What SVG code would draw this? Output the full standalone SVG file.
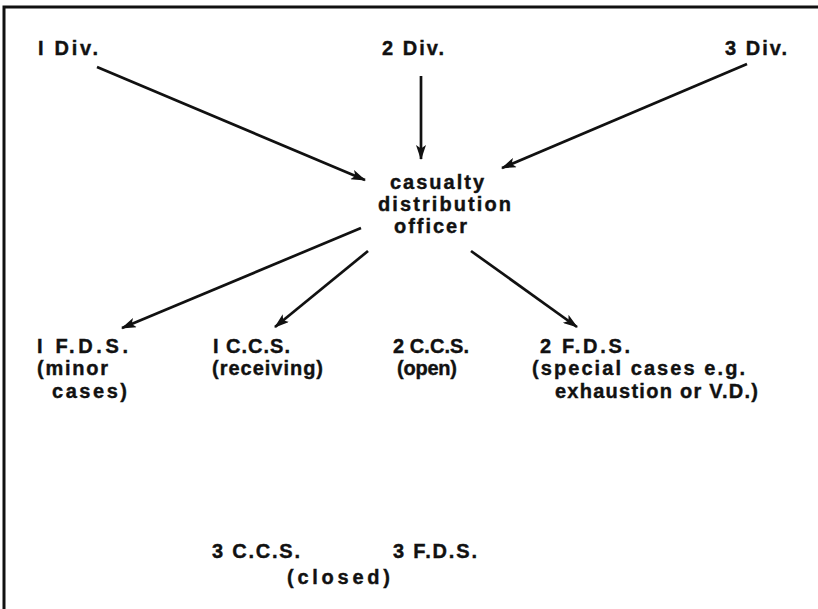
<svg xmlns="http://www.w3.org/2000/svg" width="818" height="609" viewBox="0 0 818 609">
  <style>
    .lbl { font-family: "Liberation Sans", "DejaVu Sans", sans-serif; font-weight: bold; font-size: 20px; fill: #111; stroke: #111; stroke-width: 0.4; }
    .frame { stroke: #111; stroke-width: 3; fill: none; }
    .link { stroke: #111; stroke-width: 2.7; fill: none; marker-end: url(#head); }
  </style>
  <defs>
    <marker id="head" viewBox="0 0 15 10" refX="14" refY="5" markerWidth="15" markerHeight="10" markerUnits="userSpaceOnUse" orient="auto">
      <path d="M0,0 L15,5 L0,10 L3.5,5 Z" fill="#111"/>
    </marker>
  </defs>
  <rect width="818" height="609" fill="#fff"/>
  <!-- frame: top rule and left rule -->
  <path class="frame" d="M4,609 L4,7 L818,7"/>

  <g id="connectors">
    <line class="link" x1="97" y1="67" x2="365" y2="180"/>
    <line class="link" x1="421" y1="76" x2="421" y2="159"/>
    <line class="link" x1="747" y1="64" x2="502" y2="168"/>
    <line class="link" x1="361" y1="228" x2="122" y2="328"/>
    <line class="link" x1="368" y1="251" x2="275" y2="327"/>
    <line class="link" x1="471" y1="251" x2="577" y2="327"/>
  </g>

  <g id="div1"><text class="lbl" x="38" y="55" textLength="60" lengthAdjust="spacing">I  Div.</text></g>
  <g id="div2"><text class="lbl" x="382" y="55" textLength="62" lengthAdjust="spacing">2 Div.</text></g>
  <g id="div3"><text class="lbl" x="725" y="55" textLength="62" lengthAdjust="spacing">3 Div.</text></g>

  <g id="cdo">
    <text class="lbl" x="390" y="189" textLength="94" lengthAdjust="spacing">casualty</text>
    <text class="lbl" x="378" y="211" textLength="133" lengthAdjust="spacing">distribution</text>
    <text class="lbl" x="394" y="233" textLength="73" lengthAdjust="spacing">officer</text>
  </g>

  <g id="fds1">
    <text class="lbl" x="37" y="353" textLength="91" lengthAdjust="spacing">I  F.D.S.</text>
    <text class="lbl" x="37" y="375" textLength="71" lengthAdjust="spacing">(minor</text>
    <text class="lbl" x="52" y="398" textLength="75" lengthAdjust="spacing">cases)</text>
  </g>
  <g id="ccs1">
    <text class="lbl" x="213" y="353" textLength="77" lengthAdjust="spacing">I C.C.S.</text>
    <text class="lbl" x="212" y="375" textLength="111" lengthAdjust="spacing">(receiving)</text>
  </g>
  <g id="ccs2">
    <text class="lbl" x="393" y="353" textLength="76" lengthAdjust="spacing">2 C.C.S.</text>
    <text class="lbl" x="397" y="375" textLength="60" lengthAdjust="spacing">(open)</text>
  </g>
  <g id="fds2">
    <text class="lbl" x="540" y="353" textLength="90" lengthAdjust="spacing">2 F.D.S.</text>
    <text class="lbl" x="532" y="375" textLength="213" lengthAdjust="spacing">(special cases e.g.</text>
    <text class="lbl" x="555" y="398" textLength="203" lengthAdjust="spacing">exhaustion or V.D.)</text>
  </g>
  <g id="ccs3">
    <text class="lbl" x="212" y="558" textLength="88" lengthAdjust="spacing">3 C.C.S.</text>
    <text class="lbl" x="287" y="584" textLength="103" lengthAdjust="spacing">(closed)</text>
  </g>
  <g id="fds3">
    <text class="lbl" x="393" y="558" textLength="84" lengthAdjust="spacing">3 F.D.S.</text>
  </g>
</svg>
